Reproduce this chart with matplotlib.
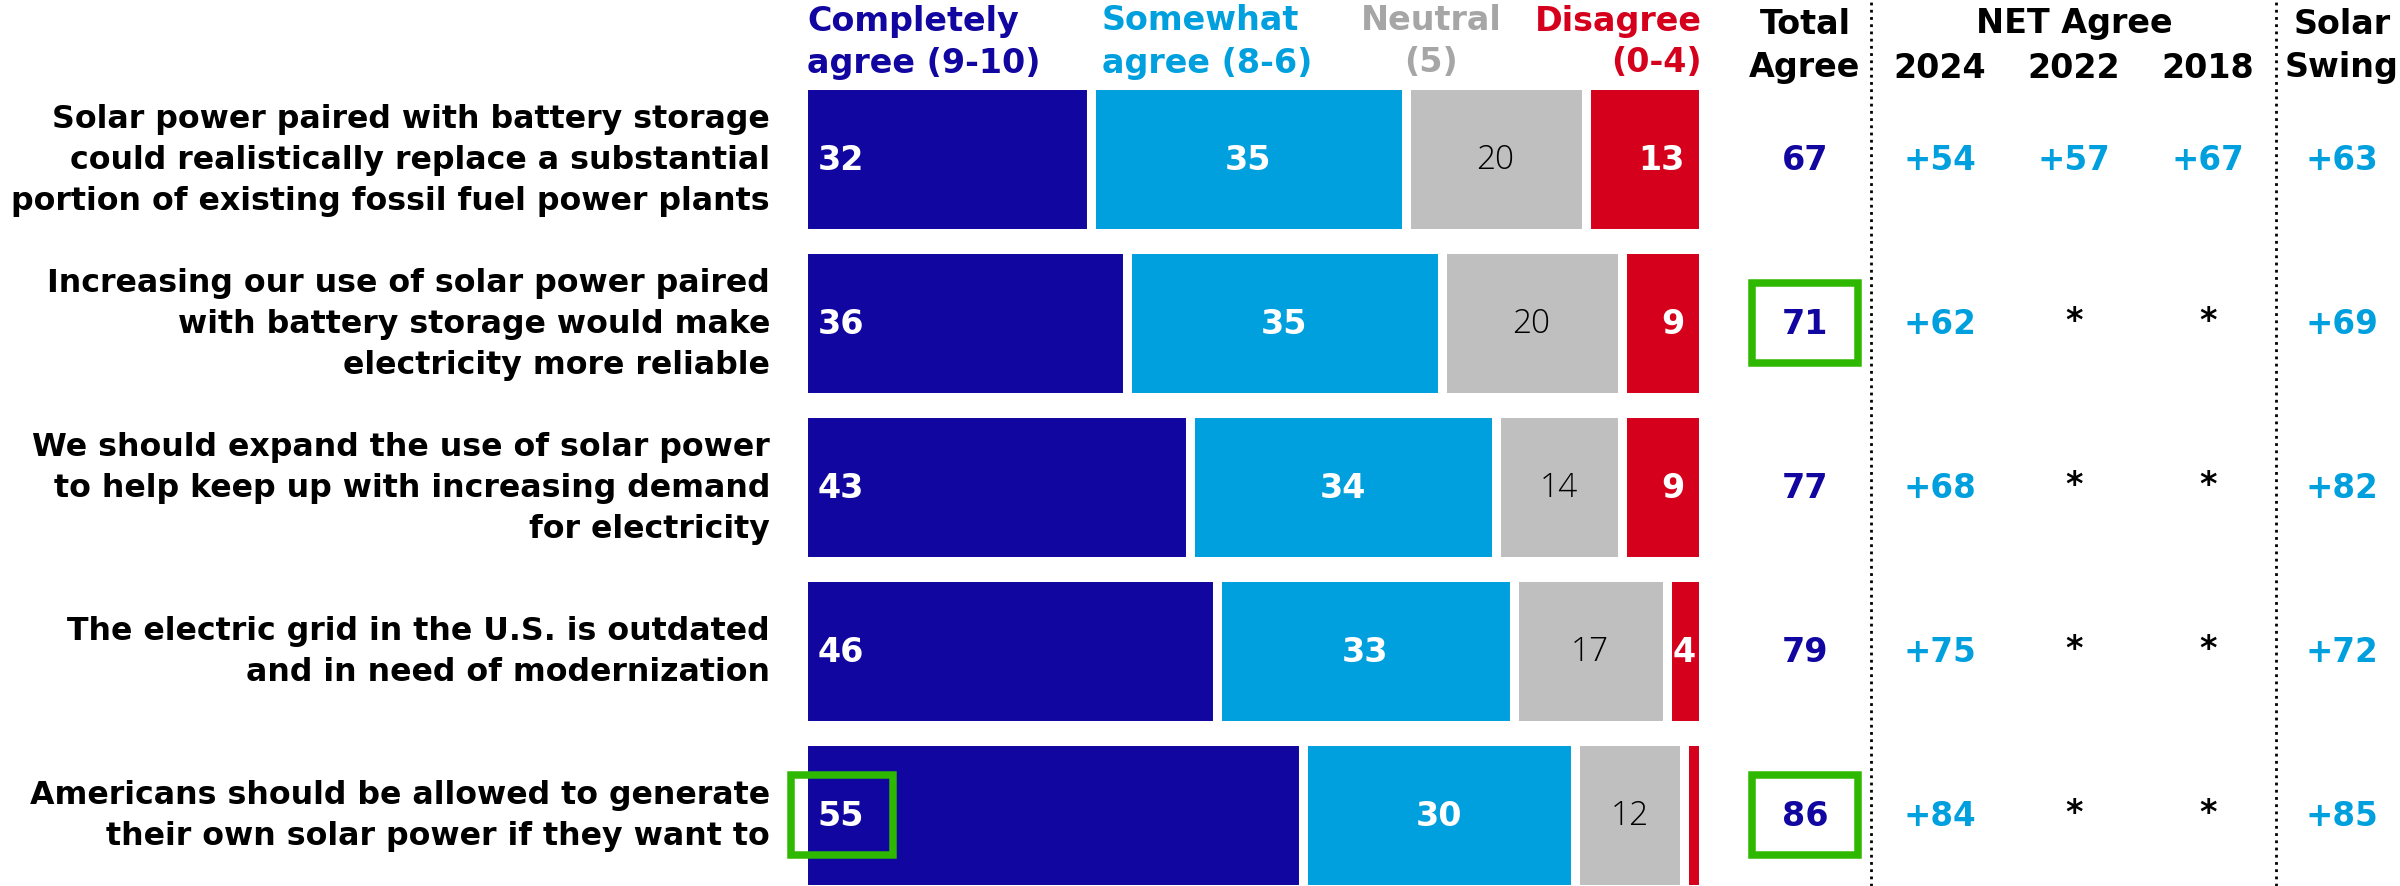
import numpy as np
import matplotlib.pyplot as plt
from matplotlib.transforms import blended_transform_factory
from matplotlib.patches import Rectangle
from matplotlib.lines import Line2D

# survey data
statements = [
    "Solar power paired with battery storage\ncould realistically replace a substantial\nportion of existing fossil fuel power plants",
    "Increasing our use of solar power paired\nwith battery storage would make\nelectricity more reliable",
    "We should expand the use of solar power\nto help keep up with increasing demand\nfor electricity",
    "The electric grid in the U.S. is outdated\nand in need of modernization",
    "Americans should be allowed to generate\ntheir own solar power if they want to",
]
completely = [32, 36, 43, 46, 55]
somewhat = [35, 35, 34, 33, 30]
neutral = [20, 20, 14, 17, 12]
disagree = [13, 9, 9, 4, 2]
total_agree = [67, 71, 77, 79, 86]
net_2024 = [54, 62, 68, 75, 84]
net_2022 = [57, None, None, None, None]
net_2018 = [67, None, None, None, None]
solar_swing = [63, 69, 82, 72, 85]
boxed_total = [1, 4]
boxed_completely = [4]

DARK = '#11069F'
LIGHT = '#009FDD'
GRAY = '#BFBFBF'
RED = '#D5001C'
GREEN = '#2EB800'
HGRAY = '#A6A6A6'

W, H = 2400, 887
fig = plt.figure(figsize=(24, 8.87), dpi=100)
plt.rcParams['font.family'] = ['DejaVu Sans']

# bar axes: 9 px per percentage point, rows 164 px apart
ax = fig.add_axes([802.5/W, 0, 900/W, 1])
ax.set_xlim(0, 100)
step = 164.0
top = 160.35
ax.set_ylim((H - top)/step, -top/step)
ax.axis('off')

n = len(statements)
y = np.arange(n)
segs = np.array([completely, somewhat, neutral, disagree], dtype=float)
shares = segs / segs.sum(axis=0) * 100   # each row fills the full bar
cols = [DARK, LIGHT, GRAY, RED]
left = np.zeros(n)
starts = []
for vals, c in zip(shares, cols):
    ax.barh(y, vals, left=left, height=0.904, color=c, edgecolor='white',
            linewidth=6.5)
    starts.append(left.copy())
    left += vals

lab = dict(fontsize=24, fontweight='bold', va='center')
for i in range(n):
    ax.text(1.7, y[i], str(completely[i]), color='white', ha='left', **lab)
    ax.text(starts[1][i] + shares[1][i]/2, y[i], str(somewhat[i]),
            color='white', ha='center', **lab)
    ax.text(starts[2][i] + shares[2][i]/2, y[i], str(neutral[i]),
            color='black', ha='center', va='center', fontsize=24,
            fontweight='light', family='Open Sans')
    if disagree[i] >= 5:
        ax.text(98.0, y[i], str(disagree[i]), color='white', ha='right', **lab)
    elif disagree[i] >= 4:
        ax.text(starts[3][i] + shares[3][i]/2, y[i], str(disagree[i]),
                color='white', ha='center', **lab)

tr = blended_transform_factory(fig.transFigure, ax.transData)
def fx(px):
    return px / W

# statement labels
for i in range(n):
    fig.text(fx(770), y[i], statements[i], transform=tr, ha='right', va='center',
             fontsize=22.8, fontweight='bold', linespacing=1.42)

# column headers (figure pixel rows)
def htext(px, py, s, color='black', ha='center'):
    fig.text(fx(px), 1 - py/H, s, ha=ha, va='center', fontsize=24,
             fontweight='bold', color=color)

htext(807, 21, 'Completely', DARK, 'left')
htext(807, 63, 'agree (9-10)', DARK, 'left')
htext(1102, 21, 'Somewhat', LIGHT, 'left')
htext(1102, 63, 'agree (8-6)', LIGHT, 'left')
htext(1431, 21, 'Neutral', HGRAY)
htext(1431, 63, '(5)', HGRAY)
htext(1702, 21, 'Disagree', RED, 'right')
htext(1702, 63, '(0-4)', RED, 'right')
htext(1805, 24, 'Total')
htext(1805, 68, 'Agree')
htext(2074, 24, 'NET Agree')
htext(1940, 68, '2024')
htext(2074, 68, '2022')
htext(2208, 68, '2018')
htext(2342, 24, 'Solar')
htext(2342, 68, 'Swing')

# right-hand columns
for i in range(n):
    fig.text(fx(1805), y[i], str(total_agree[i]), transform=tr, ha='center',
             va='center', color=DARK, fontsize=24, fontweight='bold')
    for px, series in [(1940, net_2024), (2074, net_2022), (2208, net_2018),
                       (2342, solar_swing)]:
        v = series[i]
        if v is None:
            fig.text(fx(px), y[i] - 0.02, '*', transform=tr, ha='center',
                     va='center', color='black', fontsize=24, fontweight='bold')
        else:
            fig.text(fx(px), y[i], '+%d' % v, transform=tr, ha='center',
                     va='center', color=LIGHT, fontsize=23.5, fontweight='bold')

# highlight boxes
bh = 80/step
for i in boxed_total:
    fig.add_artist(Rectangle((fx(1752), y[i] - bh/2), fx(1858) - fx(1752), bh,
                             transform=tr, fill=False, edgecolor=GREEN, lw=5.4))
for i in boxed_completely:
    ax.add_patch(Rectangle((-1.3, y[i] - bh/2), 11.3, bh, fill=False,
                           edgecolor=GREEN, lw=5.4, clip_on=False))

# dotted separators
for px in [1870.5, 2276]:
    fig.add_artist(Line2D([fx(px), fx(px)], [0, 1], transform=fig.transFigure,
                          color='black', lw=2, linestyle=(0, (1, 1.6))))

fig.savefig('out.png', dpi=100)
